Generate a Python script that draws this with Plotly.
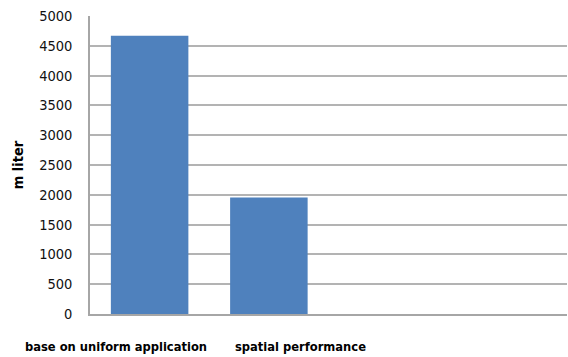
import plotly.graph_objects as go

categories = ["base on uniform application", "spatial performance"]
values = [4670, 1955]
y_ticks = [0, 500, 1000, 1500, 2000, 2500, 3000, 3500, 4000, 4500, 5000]
y_title = "m liter"

fig = go.Figure()
fig.add_trace(go.Bar(x=categories, y=values, marker=dict(color="#4f81bd", line=dict(color="#4f81bd", width=0)),
                     width=0.65))

fig.update_layout(
    width=568, height=357,
    margin=dict(l=90, r=1, t=16, b=43),
    paper_bgcolor="white", plot_bgcolor="white",
    showlegend=False,
    font=dict(family="DejaVu Sans", color="#000000"),
    xaxis=dict(range=[-0.5, 3.5], showticklabels=False, showgrid=False,
               showline=True, linecolor="#a6a6a6", linewidth=1.5, ticks=""),
    yaxis=dict(range=[0, 5000], tickvals=y_ticks, showgrid=True, gridcolor="#b3b3b3", gridwidth=1.5,
               showline=True, linecolor="#a6a6a6", linewidth=1.5, ticks="",
               tickfont=dict(size=14.5, family="DejaVu Sans Condensed", color="#111111"), ticklabelstandoff=13,
               title=dict(text="<b>" + y_title + "</b>", font=dict(size=14.5, family="DejaVu Sans Condensed"), standoff=12)),
)
shifts = [-34, 32]
for c, s in zip(categories, shifts):
    fig.add_annotation(x=c, y=0, xref="x", yref="paper", text="<b>" + c + "</b>", showarrow=False,
                       yshift=-42, xshift=s, font=dict(size=12.8, family="DejaVu Sans Condensed"))

fig.write_html("out.html")
